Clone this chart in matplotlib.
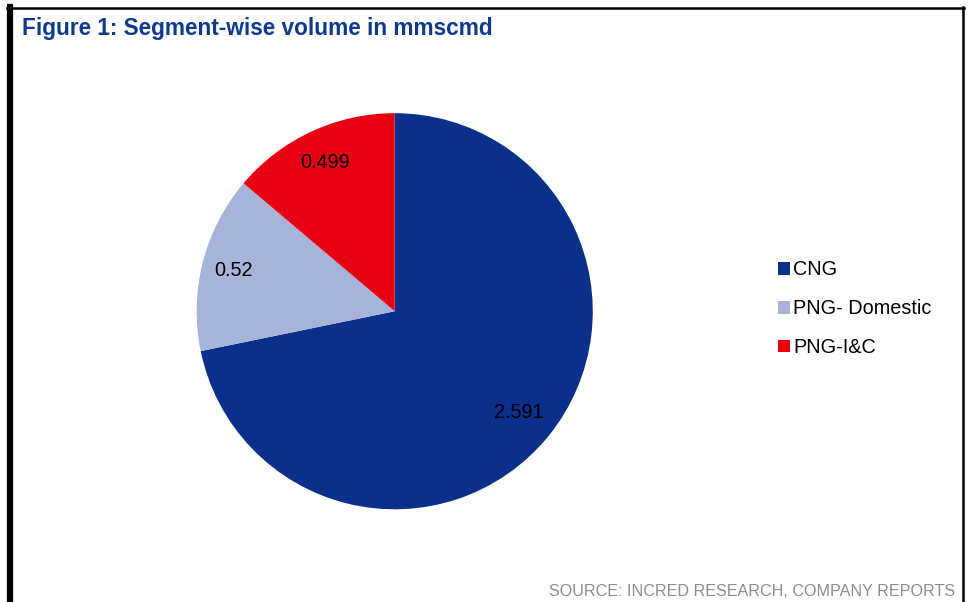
import numpy as np
import matplotlib.pyplot as plt
from matplotlib.lines import Line2D

plt.rcParams['font.family'] = ['Liberation Sans', 'DejaVu Sans']

segments = ['CNG', 'PNG- Domestic', 'PNG-I&C']
volumes = [2.591, 0.52, 0.499]
labels = ['2.591', '0.52', '0.499']
colors = ['#0A308C', '#A7B3D9', '#E60012']

fig = plt.figure(figsize=(9.71, 6.02), dpi=100)
ax = fig.add_axes([0.2025, 0.154, 0.408, 0.658])

wedges, _ = ax.pie(volumes, colors=colors, startangle=90, counterclock=False,
                   wedgeprops=dict(linewidth=0))
ax.set_aspect('equal')
ax.set_xlim(-1, 1)
ax.set_ylim(-1, 1)

# value labels placed inside each wedge
label_r = [0.81, 0.84, 0.83]
for w, txt, r in zip(wedges, labels, label_r):
    mid = np.deg2rad((w.theta1 + w.theta2) / 2)
    ax.text(r * np.cos(mid), r * np.sin(mid), txt, ha='center', va='center',
            fontsize=14.3, color='black')

fig.legend(wedges, segments, loc='center left', bbox_to_anchor=(0.783, 0.487),
           frameon=False, fontsize=14.3, handlelength=0.6, handleheight=0.6,
           handletextpad=0.15, labelspacing=1.0)

fig.text(22 / 971, 1 - 28 / 602, 'Figure 1: Segment-wise volume in mmscmd',
         fontsize=16.3, fontweight='bold', color='#0D3A8C', va='center', ha='left')
fig.text(955 / 971, 1 - 591 / 602, 'SOURCE: INCRED RESEARCH, COMPANY REPORTS',
         fontsize=11.6, color='#8C8C8C', va='center', ha='right')

# frame lines
fig.add_artist(Line2D([10 / 971, 10 / 971], [0, 1 - 7 / 602], color='black', lw=4.5,
                      transform=fig.transFigure))
fig.add_artist(Line2D([7 / 971, 964 / 971], [1 - 7.5 / 602, 1 - 7.5 / 602], color='black',
                      lw=1.8, transform=fig.transFigure))
fig.add_artist(Line2D([963 / 971, 963 / 971], [0, 1 - 7 / 602], color='black', lw=1.8,
                      transform=fig.transFigure))

fig.savefig('out.png', dpi=100)
